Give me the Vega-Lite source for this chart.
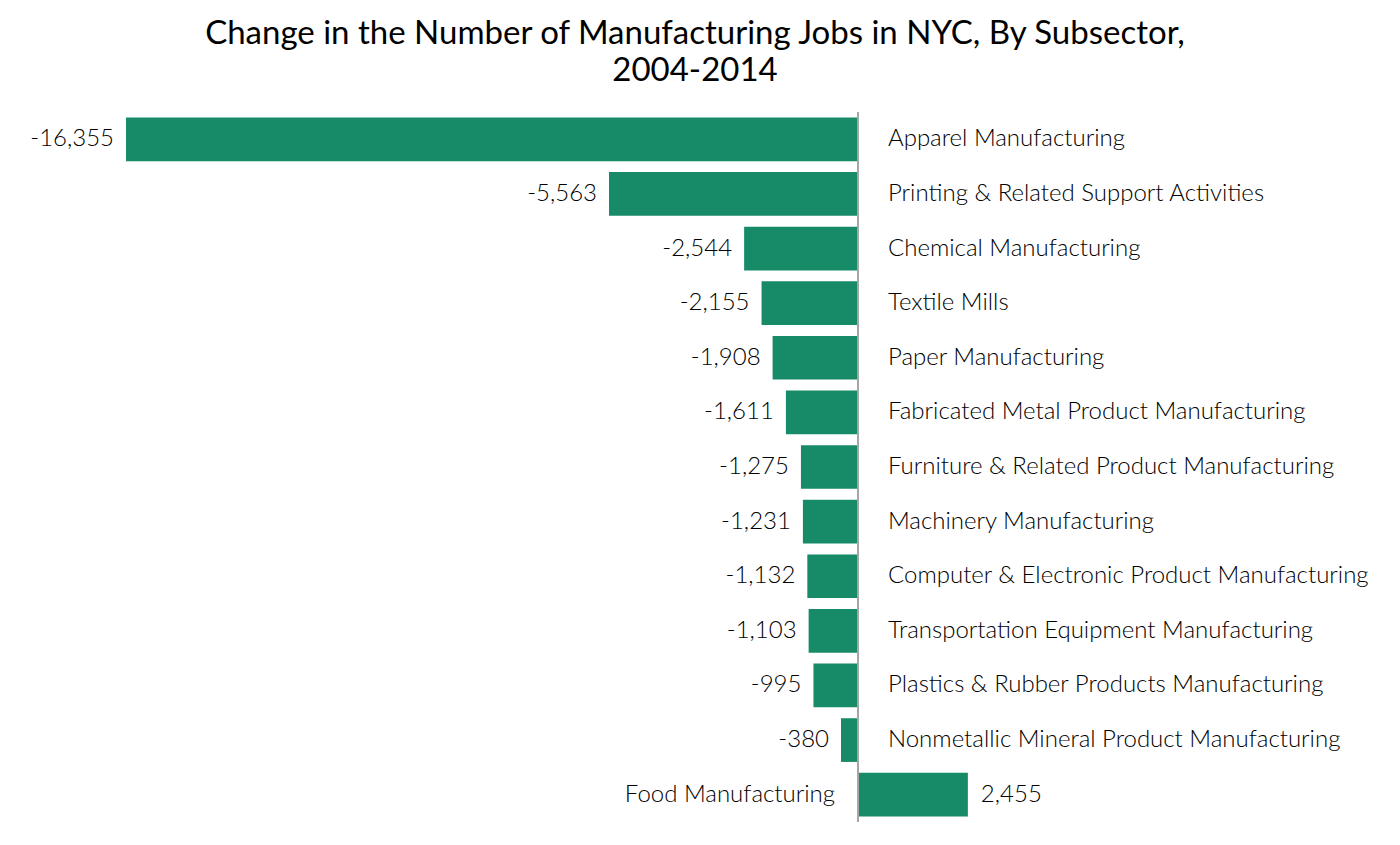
{
  "$schema": "https://vega.github.io/schema/vega-lite/v6.json",
  "width": 1274,
  "height": 710,
  "autosize": "none",
  "padding": {"left": 126, "top": 112, "right": 0, "bottom": 0},
  "background": "white",
  "title": {
    "text": ["Change in the Number of Manufacturing Jobs in NYC, By Subsector,", "2004-2014"],
    "anchor": "middle",
    "dx": -68,
    "fontSize": 33,
    "font": "Lato",
    "fontWeight": "normal",
    "color": "#000000",
    "lineHeight": 37,
    "offset": 24
  },
  "config": {
    "view": {"stroke": null},
    "locale": {"number": {"decimal": ".", "thousands": ",", "grouping": [3], "currency": ["$", ""], "minus": "-"}}
  },
  "data": {
    "values": [
      {"subsector": "Apparel Manufacturing", "change": -16355},
      {"subsector": "Printing & Related Support Activities", "change": -5563},
      {"subsector": "Chemical Manufacturing", "change": -2544},
      {"subsector": "Textile Mills", "change": -2155},
      {"subsector": "Paper Manufacturing", "change": -1908},
      {"subsector": "Fabricated Metal Product Manufacturing", "change": -1611},
      {"subsector": "Furniture & Related Product Manufacturing", "change": -1275},
      {"subsector": "Machinery Manufacturing", "change": -1231},
      {"subsector": "Computer & Electronic Product Manufacturing", "change": -1132},
      {"subsector": "Transportation Equipment Manufacturing", "change": -1103},
      {"subsector": "Plastics & Rubber Products Manufacturing", "change": -995},
      {"subsector": "Nonmetallic Mineral Product Manufacturing", "change": -380},
      {"subsector": "Food Manufacturing", "change": 2455}
    ]
  },
  "layer": [
    {
      "mark": {"type": "bar", "color": "#178b68"},
      "encoding": {
        "y": {"field": "subsector", "type": "nominal", "axis": null,
              "sort": ["Apparel Manufacturing", "Printing & Related Support Activities", "Chemical Manufacturing", "Textile Mills", "Paper Manufacturing", "Fabricated Metal Product Manufacturing", "Furniture & Related Product Manufacturing", "Machinery Manufacturing", "Computer & Electronic Product Manufacturing", "Transportation Equipment Manufacturing", "Plastics & Rubber Products Manufacturing", "Nonmetallic Mineral Product Manufacturing", "Food Manufacturing"],
              "scale": {"paddingInner": 0.2, "paddingOuter": 0.1}},
        "x": {"field": "change", "type": "quantitative", "axis": null,
              "scale": {"domain": [-16355, 12110], "nice": false, "zero": true}}
      }
    },
    {
      "mark": {"type": "rule", "color": "#a6a6a6", "strokeWidth": 1},
      "encoding": {"x": {"datum": 0, "type": "quantitative"}}
    },
    {
      "transform": [{"filter": "datum.change < 0"}],
      "mark": {"type": "text", "align": "right", "baseline": "middle", "dx": -12, "font": "Lato", "fontWeight": 300, "fontSize": 24, "color": "#000000"},
      "encoding": {
        "y": {"field": "subsector", "type": "nominal", "sort": ["Apparel Manufacturing", "Printing & Related Support Activities", "Chemical Manufacturing", "Textile Mills", "Paper Manufacturing", "Fabricated Metal Product Manufacturing", "Furniture & Related Product Manufacturing", "Machinery Manufacturing", "Computer & Electronic Product Manufacturing", "Transportation Equipment Manufacturing", "Plastics & Rubber Products Manufacturing", "Nonmetallic Mineral Product Manufacturing", "Food Manufacturing"]},
        "x": {"field": "change", "type": "quantitative"},
        "text": {"field": "change", "type": "quantitative", "format": ","}
      }
    },
    {
      "transform": [{"filter": "datum.change >= 0"}],
      "mark": {"type": "text", "align": "left", "baseline": "middle", "dx": 13, "font": "Lato", "fontWeight": 300, "fontSize": 24, "color": "#000000"},
      "encoding": {
        "y": {"field": "subsector", "type": "nominal", "sort": ["Apparel Manufacturing", "Printing & Related Support Activities", "Chemical Manufacturing", "Textile Mills", "Paper Manufacturing", "Fabricated Metal Product Manufacturing", "Furniture & Related Product Manufacturing", "Machinery Manufacturing", "Computer & Electronic Product Manufacturing", "Transportation Equipment Manufacturing", "Plastics & Rubber Products Manufacturing", "Nonmetallic Mineral Product Manufacturing", "Food Manufacturing"]},
        "x": {"field": "change", "type": "quantitative"},
        "text": {"field": "change", "type": "quantitative", "format": ","}
      }
    },
    {
      "transform": [{"filter": "datum.change < 0"}],
      "mark": {"type": "text", "align": "left", "baseline": "middle", "dx": 30, "font": "Lato", "fontWeight": 300, "fontSize": 24, "color": "#000000"},
      "encoding": {
        "y": {"field": "subsector", "type": "nominal", "sort": ["Apparel Manufacturing", "Printing & Related Support Activities", "Chemical Manufacturing", "Textile Mills", "Paper Manufacturing", "Fabricated Metal Product Manufacturing", "Furniture & Related Product Manufacturing", "Machinery Manufacturing", "Computer & Electronic Product Manufacturing", "Transportation Equipment Manufacturing", "Plastics & Rubber Products Manufacturing", "Nonmetallic Mineral Product Manufacturing", "Food Manufacturing"]},
        "x": {"datum": 0, "type": "quantitative"},
        "text": {"field": "subsector", "type": "nominal"}
      }
    },
    {
      "transform": [{"filter": "datum.change >= 0"}],
      "mark": {"type": "text", "align": "right", "baseline": "middle", "dx": -23, "font": "Lato", "fontWeight": 300, "fontSize": 24, "color": "#000000"},
      "encoding": {
        "y": {"field": "subsector", "type": "nominal", "sort": ["Apparel Manufacturing", "Printing & Related Support Activities", "Chemical Manufacturing", "Textile Mills", "Paper Manufacturing", "Fabricated Metal Product Manufacturing", "Furniture & Related Product Manufacturing", "Machinery Manufacturing", "Computer & Electronic Product Manufacturing", "Transportation Equipment Manufacturing", "Plastics & Rubber Products Manufacturing", "Nonmetallic Mineral Product Manufacturing", "Food Manufacturing"]},
        "x": {"datum": 0, "type": "quantitative"},
        "text": {"field": "subsector", "type": "nominal"}
      }
    }
  ]
}
